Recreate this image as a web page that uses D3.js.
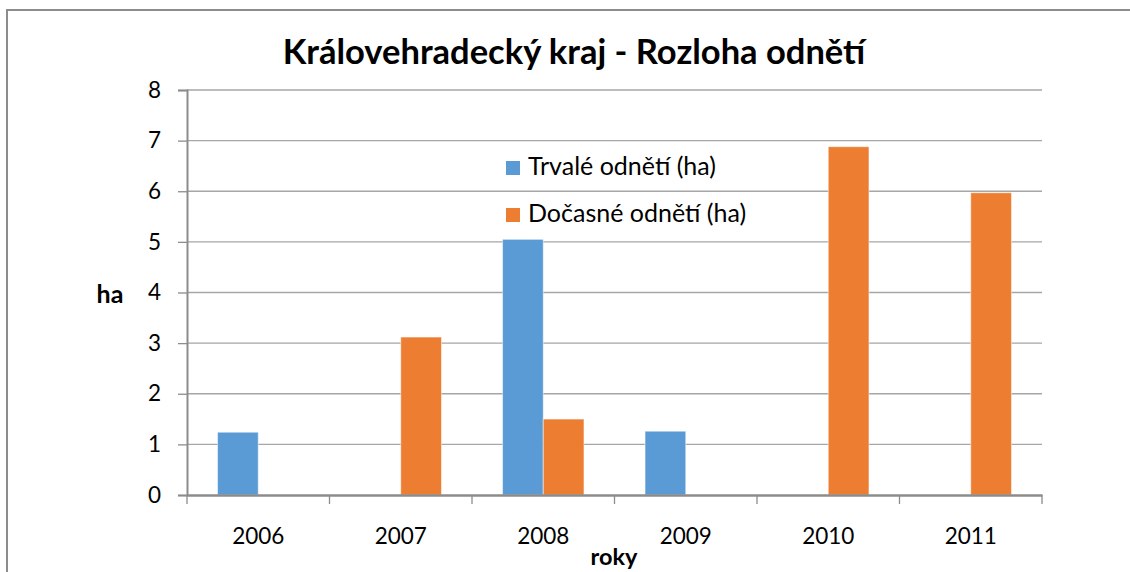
<!DOCTYPE html>
<html>
<head>
<meta charset="utf-8">
<script src="https://cdn.jsdelivr.net/npm/d3@7"></script>
<style>
  body { margin: 0; background: #fff; }
  svg text { font-family: Lato, "Open Sans", sans-serif; fill: #000; }
</style>
</head>
<body>
<svg id="chart" width="1130" height="572"></svg>
<script>
// data
var years = ["2006", "2007", "2008", "2009", "2010", "2011"];
var seriesNames = ["Trvalé odnětí (ha)", "Dočasné odnětí (ha)"];
var trvale = [1.24, 0, 5.05, 1.26, 0, 0];
var docasne = [0, 3.12, 1.5, 0, 6.88, 5.97];
var yTicks = [0, 1, 2, 3, 4, 5, 6, 7, 8];
var colors = ["#5B9BD5", "#ED7D31"];

var svg = d3.select("#chart");

// outer chart border
svg.append("path")
  .attr("d", "M7,572 V10 H1130")
  .attr("fill", "none")
  .attr("stroke", "#8c8c8c")
  .attr("stroke-width", 2);

var plotLeft = 187, plotRight = 1042, plotTop = 90, plotBottom = 495;

var x = d3.scaleBand().domain(years).range([plotLeft, plotRight]).paddingInner(0).paddingOuter(0);
var y = d3.scaleLinear().domain([0, 8]).range([plotBottom, plotTop]);

// two bars per year, 150% gap width
var inner = d3.scaleBand().domain(seriesNames).range([0, x.bandwidth()]).paddingOuter(0.75).paddingInner(0);

// gridlines
svg.append("g").selectAll("line")
  .data(yTicks.slice(1))
  .enter().append("line")
  .attr("x1", plotLeft).attr("x2", plotRight)
  .attr("y1", function(d) { return y(d); })
  .attr("y2", function(d) { return y(d); })
  .attr("stroke", "#a6a6a6")
  .attr("stroke-width", 1.3);

// bars
var rows = years.map(function(yr, i) { return {year: yr, vals: [trvale[i], docasne[i]]}; });
var groups = svg.append("g").selectAll("g")
  .data(rows)
  .enter().append("g")
  .attr("transform", function(d) { return "translate(" + x(d.year) + ",0)"; });

groups.selectAll("rect")
  .data(function(d) { return d.vals.map(function(v, k) { return {name: seriesNames[k], v: v, k: k}; }).filter(function(e) { return e.v > 0; }); })
  .enter().append("rect")
  .attr("x", function(d) { return inner(d.name); })
  .attr("width", inner.bandwidth())
  .attr("y", function(d) { return y(d.v); })
  .attr("height", function(d) { return plotBottom - y(d.v); })
  .attr("fill", function(d) { return colors[d.k]; })
  .attr("stroke", "#ffffff")
  .attr("stroke-opacity", 0.5)
  .attr("stroke-width", 1);

// y axis
var yAxis = svg.append("g")
  .attr("transform", "translate(" + plotLeft + ",0)")
  .call(d3.axisLeft(y).tickValues(yTicks).tickSize(9).tickPadding(17).tickFormat(d3.format("d")));
yAxis.select(".domain").attr("stroke", "#8c8c8c").attr("stroke-width", 2);
yAxis.selectAll(".tick line").attr("stroke", "#8c8c8c").attr("stroke-width", 1.3);
yAxis.selectAll("text").attr("font-size", 22.5).attr("font-family", "Lato").attr("fill", "#000");

// x axis
var xAxis = svg.append("g")
  .attr("transform", "translate(0," + plotBottom + ")")
  .call(d3.axisBottom(x).tickSize(0).tickPadding(33));
xAxis.select(".domain").attr("stroke", "#8c8c8c").attr("stroke-width", 2.5);
xAxis.selectAll("text").attr("font-size", 22.5).attr("font-family", "Lato").attr("fill", "#000");
// tick marks between categories
var xBounds = years.map(function(d) { return x(d); }).concat([plotRight]);
xAxis.selectAll(".sep")
  .data(xBounds)
  .enter().append("line")
  .attr("class", "sep")
  .attr("x1", function(d) { return d; }).attr("x2", function(d) { return d; })
  .attr("y1", 0).attr("y2", 9)
  .attr("stroke", "#8c8c8c")
  .attr("stroke-width", 1.3);

// title
svg.append("text")
  .attr("x", 574).attr("y", 64)
  .attr("text-anchor", "middle")
  .attr("font-size", 34.5)
  .attr("font-weight", "bold")
  .text("Královehradecký kraj - Rozloha odnětí");

// axis titles
svg.append("text")
  .attr("x", 110).attr("y", 303)
  .attr("text-anchor", "middle")
  .attr("font-size", 25)
  .attr("font-weight", "bold")
  .text("ha");

svg.append("text")
  .attr("x", 614).attr("y", 565)
  .attr("text-anchor", "middle")
  .attr("font-size", 23.5)
  .attr("font-weight", "bold")
  .text("roky");

// legend
var legend = svg.append("g").selectAll("g")
  .data(seriesNames)
  .enter().append("g")
  .attr("transform", function(d, i) { return "translate(506," + (161 + i * 47) + ")"; });
legend.append("rect")
  .attr("width", 14).attr("height", 14)
  .attr("fill", function(d, i) { return colors[i]; });
legend.append("text")
  .attr("x", 22).attr("y", 14)
  .attr("font-size", 25)
  .text(function(d) { return d; });
</script>
</body>
</html>
